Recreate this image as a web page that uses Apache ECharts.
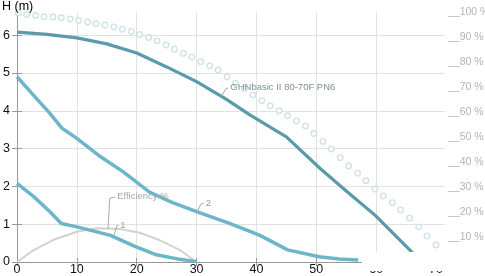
<!DOCTYPE html>
<html>
<head>
<meta charset="utf-8">
<script src="https://cdn.jsdelivr.net/npm/echarts@6/dist/echarts.min.js"></script>
<style>html,body{margin:0;padding:0;background:#fff}#c{width:485px;height:276px}</style>
</head>
<body>
<div id="c"></div>
<script>
// ---- data ----
const xTicks = [0, 10, 20, 30, 40, 50, 60, 70];
const yTicks = [0, 1, 2, 3, 4, 5, 6];
const pctTicks = [10, 20, 30, 40, 50, 60, 70, 80, 90, 100];

const mainCurve = [[0,6.08],[5,6.02],[10,5.93],[15,5.77],[20,5.53],[25,5.16],[30,4.77],[35,4.30],[38.9,3.89],[45,3.31],[50.6,2.48],[55,1.88],[59.8,1.24],[65.6,0.32],[67.6,0]];
const curve2 = [[0,4.9],[2.7,4.42],[5.5,3.93],[7.5,3.54],[10,3.27],[13.9,2.79],[17.7,2.39],[22.2,1.84],[26,1.57],[30,1.33],[35.5,1.02],[40.5,0.71],[45.2,0.32],[50.5,0.14],[53.8,0.08],[57,0.05]];
const curve1 = [[0,2.08],[2.8,1.73],[5.5,1.33],[7.4,1.02],[10,0.93],[15.5,0.71],[19.9,0.40],[23.3,0.19],[27.2,0.07],[30,0.01]];
const efficiency = [[0,0],[2.8,4.8],[6,8.8],[10,12.1],[13.3,13.5],[17.2,13.2],[20.5,11.7],[23.8,8.8],[27.2,4.8],[30,0]];

const dotFlow = [0.2,1.6,3.1,4.5,6.0,7.4,8.9,10.3,11.8,13.2,14.7,16.2,17.6,19.1,20.5,22.0,23.4,24.9,26.3,27.8,29.2,30.7,32.2,33.6,35.1,36.5,38.0,39.4,40.9,42.3,43.8,45.2,46.7,48.2,49.6,51.1,52.5,54.0,55.4,56.9,58.3,59.8,61.2,62.7,64.1,65.6,67.1,68.5,70.0];
const dotHead = [6.59,6.55,6.52,6.49,6.48,6.46,6.43,6.39,6.35,6.31,6.27,6.22,6.16,6.10,6.02,5.94,5.85,5.74,5.63,5.52,5.42,5.30,5.19,5.08,4.90,4.73,4.58,4.42,4.27,4.13,4.00,3.87,3.73,3.60,3.40,3.19,2.99,2.76,2.54,2.35,2.15,1.93,1.75,1.57,1.38,1.16,0.93,0.69,0.45];

// ---- annotation leader lines (data coordinates) ----
const effLeader = [[15.2,13.3],[15.5,25.6],[16.4,26.0]];
const oneLeader = [[16.2,0.71],[16.7,0.97],[16.9,0.97]];
const twoLeader = [[30.2,1.35],[30.7,1.53],[31.2,1.55]];
const mainLeader = [[34.2,4.39],[34.9,4.59],[35.3,4.60]];

const FONT = 'Liberation Sans, Arial, sans-serif';

function leader(points, text, color) {
  const data = [];
  for (let i = 0; i < points.length - 1; i++) {
    const last = i === points.length - 2;
    const lbl = last
      ? {show: true, position: 'end', formatter: text, color: color, fontSize: 9.5, fontFamily: FONT, distance: 2}
      : {show: false};
    data.push([{coord: points[i], label: lbl}, {coord: points[i + 1], label: lbl}]);
  }
  return {
    silent: true, animation: false, symbol: ['none', 'none'],
    lineStyle: {color: '#a8a8a8', width: 1, type: 'solid'},
    label: {show: false},
    emphasis: {disabled: true},
    data: data
  };
}

const gridColor = '#e2e2e2';
const splitColors = [gridColor, gridColor, gridColor, gridColor, gridColor, gridColor, gridColor, 'rgba(0,0,0,0)'];

const chart = echarts.init(document.getElementById('c'), null, {renderer: 'canvas'});
chart.setOption({
  animation: false,
  backgroundColor: '#fff',
  textStyle: {fontFamily: FONT},
  title: {text: 'H (m)', left: 2, top: 0, padding: 0,
    textStyle: {fontSize: 12.5, fontWeight: 'normal', color: '#000', fontFamily: FONT}},
  grid: {left: 17, top: 12.5, right: 40, bottom: 14, containLabel: false, outerBoundsMode: 'none'},
  xAxis: [{
    type: 'value', min: 0, max: 71.5, interval: 10,
    axisLine: {show: true, lineStyle: {color: '#999', width: 1}},
    axisTick: {show: true, length: 4, inside: false, customValues: xTicks, lineStyle: {color: '#999'}},
    axisLabel: {show: true, customValues: xTicks, margin: 1, fontSize: 12.5, color: '#111', fontFamily: FONT},
    splitLine: {show: true, lineStyle: {color: splitColors, width: 1}}
  }, {
    type: 'value', min: 0, max: 71.5, interval: 10, position: 'bottom',
    axisLine: {show: false},
    axisTick: {show: true, length: 4, inside: true, customValues: xTicks, lineStyle: {color: '#999'}},
    axisLabel: {show: false},
    splitLine: {show: false}
  }],
  yAxis: [{
    type: 'value', min: 0, max: 6.6, interval: 1, position: 'left',
    axisLine: {show: true, lineStyle: {color: '#999', width: 1}},
    axisTick: {show: true, length: 5, inside: false, customValues: yTicks, lineStyle: {color: '#999'}},
    axisLabel: {show: true, customValues: yTicks, margin: 7, fontSize: 12.5, color: '#111', fontFamily: FONT,
      verticalAlign: 'middle', padding: [0, 0, 6, 0]},
    splitLine: {show: true, lineStyle: {color: splitColors, width: 1}}
  }, {
    type: 'value', min: 0, max: 100, interval: 10, position: 'right',
    axisLine: {show: false}, axisTick: {show: false}, splitLine: {show: false},
    axisLabel: {show: true, customValues: pctTicks, margin: 3, fontSize: 10.5, color: '#b4b4b4', fontFamily: FONT,
      verticalAlign: 'middle', padding: [0, 0, 4, 0],
      formatter: function (v) { return '__' + v + ' %'; }}
  }, {
    type: 'value', min: 0, max: 6.6, interval: 1, position: 'left',
    axisLine: {show: false},
    axisTick: {show: true, length: 5, inside: true, customValues: yTicks, lineStyle: {color: '#999'}},
    axisLabel: {show: false},
    splitLine: {show: false}
  }],
  series: [
    {
      name: 'dots', type: 'scatter', xAxisIndex: 0, yAxisIndex: 0,
      data: dotFlow.map(function (x, i) { return [x, dotHead[i]]; }),
      symbol: 'circle', symbolSize: 5.5,
      itemStyle: {color: '#fff', borderColor: '#c4dce4', borderWidth: 1.4},
      silent: true, z: 1
    },
    {
      name: 'Efficiency %', type: 'line', xAxisIndex: 0, yAxisIndex: 1,
      data: efficiency, showSymbol: false, silent: true,
      lineStyle: {color: '#d2d2d2', width: 2}, itemStyle: {color: '#d2d2d2'},
      markLine: leader(effLeader, 'Efficiency %', '#a8a8a8'), z: 2
    },
    {
      name: '1', type: 'line', xAxisIndex: 0, yAxisIndex: 0,
      data: curve1, showSymbol: false, silent: true,
      lineStyle: {color: '#6db5c8', width: 3.5}, itemStyle: {color: '#6db5c8'},
      markLine: leader(oneLeader, '1', '#9aa0a3'), z: 3
    },
    {
      name: '2', type: 'line', xAxisIndex: 0, yAxisIndex: 0,
      data: curve2, showSymbol: false, silent: true,
      lineStyle: {color: '#6db5c8', width: 3.5}, itemStyle: {color: '#6db5c8'},
      markLine: leader(twoLeader, '2', '#9aa0a3'), z: 3
    },
    {
      name: 'GHNbasic II 80-70F PN6', type: 'line', xAxisIndex: 0, yAxisIndex: 0,
      data: mainCurve, showSymbol: false, silent: true,
      lineStyle: {color: '#5b9aab', width: 3.2}, itemStyle: {color: '#5b9aab'},
      markLine: leader(mainLeader, 'GHNbasic II 80-70F PN6', '#7d9098'), z: 4
    }
  ],
  graphic: [{
    type: 'rect', left: 362, top: 252, z: 100, silent: true,
    shape: {width: 116, height: 19}, style: {fill: '#fff'}
  }]
});
</script>
</body>
</html>
